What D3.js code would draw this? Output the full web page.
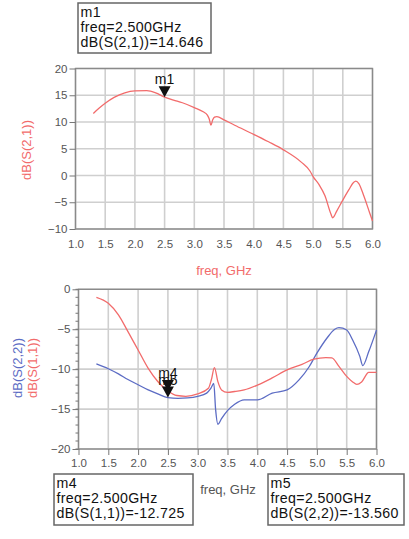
<!DOCTYPE html>
<html>
<head>
<meta charset="utf-8">
<script src="https://cdn.jsdelivr.net/npm/d3@7"></script>
<style>
  html, body { margin: 0; padding: 0; background: #fff; }
  svg { display: block; font-family: "Liberation Sans", Arial, sans-serif; }
</style>
</head>
<body>
<svg id="chart" width="409" height="539"></svg>
<script>
// ---- S21 (gain) trace ----
const freqS21 = [1.30, 1.40, 1.50, 1.65, 1.83, 2.00, 2.20, 2.35, 2.50, 2.65, 2.80, 3.00, 3.15, 3.22, 3.25, 3.28, 3.31, 3.34, 3.38, 3.50, 3.68, 4.00, 4.25, 4.50, 4.80, 4.95, 5.00, 5.10, 5.20, 5.30, 5.33, 5.40, 5.50, 5.60, 5.68, 5.72, 5.77, 5.85, 5.95, 6.00];
const s21 = [11.6, 12.6, 13.5, 14.6, 15.45, 15.8, 15.85, 15.45, 14.646, 14.1, 13.6, 12.7, 11.9, 11.3, 10.6, 9.4, 10.4, 10.9, 11.0, 10.4, 9.4, 7.7, 6.3, 4.8, 2.5, 0.8, -0.2, -1.7, -3.8, -7.2, -7.9, -6.6, -4.6, -2.7, -1.3, -1.05, -1.5, -3.7, -6.9, -8.5];

// ---- S11 / S22 (return loss) traces ----
const freqS11 = [1.30, 1.50, 1.67, 1.83, 2.00, 2.17, 2.33, 2.50, 2.65, 2.80, 3.00, 3.18, 3.23, 3.28, 3.34, 3.40, 3.50, 3.62, 3.78, 4.00, 4.25, 4.50, 4.75, 4.95, 5.15, 5.25, 5.37, 5.50, 5.60, 5.67, 5.75, 5.87, 6.00];
const s11 = [-1.0, -1.75, -3.2, -5.3, -7.6, -9.9, -11.55, -12.725, -13.3, -13.4, -13.1, -12.4, -11.3, -9.8, -11.6, -12.6, -12.9, -12.8, -12.6, -12.0, -11.1, -10.1, -9.4, -8.75, -8.55, -8.6, -9.65, -10.9, -11.6, -11.9, -11.6, -10.4, -10.4];

const freqS22 = [1.30, 1.50, 1.67, 1.83, 2.00, 2.17, 2.33, 2.50, 2.67, 2.83, 3.00, 3.15, 3.22, 3.27, 3.30, 3.34, 3.40, 3.50, 3.62, 3.78, 4.00, 4.25, 4.50, 4.70, 4.87, 5.00, 5.17, 5.30, 5.37, 5.50, 5.60, 5.72, 5.77, 5.87, 6.00];
const s22 = [-9.35, -9.95, -10.6, -11.3, -11.95, -12.6, -13.1, -13.56, -13.65, -13.6, -13.4, -13.0, -12.4, -11.8, -15.0, -16.9, -16.2, -15.2, -14.4, -13.85, -13.85, -13.0, -12.6, -11.35, -9.7, -8.0, -6.1, -5.0, -4.8, -5.1, -6.35, -8.4, -9.55, -7.8, -5.1];

// ---- axis ticks ----
const freqTicks = [1.0, 1.5, 2.0, 2.5, 3.0, 3.5, 4.0, 4.5, 5.0, 5.5, 6.0];
const gainTicks = [-10, -5, 0, 5, 10, 15, 20];
const reflTicks = [-20, -15, -10, -5, 0];
const reflMinorTicks = d3.range(-20, 1, 1);

// ---- markers ----
const markerFreq = 2.5;
const m1Value = 14.646;
const m4Value = -12.725;
const m5Value = -13.560;

const RED = "#f26b6b";
const BLUE = "#5c6cc4";
const GRID = "#cfcfcf";
const FRAME = "#8a8a8a";
const TICKTXT = "#555";

const svg = d3.select("#chart");

function frame(g, x, y, xt, yt, opts) {
  const [x0, x1] = x.range();
  const [y0, y1] = y.range();
  // grid
  g.append("g").selectAll("line").data(xt).join("line")
    .attr("x1", d => x(d)).attr("x2", d => x(d))
    .attr("y1", y1).attr("y2", y0)
    .attr("stroke", GRID).attr("stroke-width", 1.6);
  g.append("g").selectAll("line").data(yt).join("line")
    .attr("x1", x0).attr("x2", x1)
    .attr("y1", d => y(d)).attr("y2", d => y(d))
    .attr("stroke", GRID).attr("stroke-width", 1.6);
  // frame
  g.append("rect")
    .attr("x", x0).attr("y", y1)
    .attr("width", x1 - x0).attr("height", y0 - y1)
    .attr("fill", "none").attr("stroke", FRAME).attr("stroke-width", 1.4);

  // y axis
  const ya = d3.axisLeft(y).tickValues(yt).tickSize(6).tickPadding(2).tickFormat(d3.format("d"));
  const yg = g.append("g").attr("transform", `translate(${x0},0)`).call(ya);
  yg.select(".domain").remove();
  yg.selectAll("line").attr("stroke", "#777");
  yg.selectAll("text").attr("fill", TICKTXT).attr("font-size", 11.5).attr("font-family", "Liberation Sans, Arial, sans-serif");

  if (opts.minor) {
    g.append("g").selectAll("line").data(opts.minor).join("line")
      .attr("x1", x0 - 3).attr("x2", x0)
      .attr("y1", d => y(d)).attr("y2", d => y(d))
      .attr("stroke", "#777").attr("stroke-width", 1);
  }

  // x axis
  const xa = d3.axisBottom(x).tickValues(xt).tickSize(opts.xTickSize).tickPadding(opts.xPad).tickFormat(d3.format(".1f"));
  const xg = g.append("g").attr("transform", `translate(0,${y0})`).call(xa);
  xg.select(".domain").remove();
  xg.selectAll("line").attr("stroke", "#777");
  xg.selectAll("text").attr("fill", TICKTXT).attr("font-size", 11.5).attr("font-family", "Liberation Sans, Arial, sans-serif");
}

function markerBox(x, y, w, h, lines) {
  svg.append("rect").attr("x", x).attr("y", y).attr("width", w).attr("height", h)
    .attr("fill", "#fff").attr("stroke", "#666").attr("stroke-width", 1.5);
  svg.append("g").selectAll("text").data(lines).join("text")
    .attr("x", x + 2.5).attr("y", (d, i) => y + 13.5 + i * 15.2)
    .attr("font-size", 14.2).attr("fill", "#111").attr("letter-spacing", 0.35)
    .text(d => d);
}

function marker(g, px, py, name) {
  g.append("path")
    .attr("d", `M${px - 6},${py - 11}L${px + 6},${py - 11}L${px},${py}Z`)
    .attr("fill", "#111");
  g.append("text").attr("x", px).attr("y", py - 13)
    .attr("text-anchor", "middle").attr("font-size", 14).attr("fill", "#111")
    .text(name);
}

const line = (x, y) => d3.line().x(d => x(d[0])).y(d => y(d[1])).curve(d3.curveMonotoneX);

// ================= top plot: S21 =================
const xTop = d3.scaleLinear().domain([1, 6]).range([75.5, 372.5]);
const yTop = d3.scaleLinear().domain([-10, 20]).range([229, 68.5]);
const gTop = svg.append("g");
frame(gTop, xTop, yTop, freqTicks, gainTicks, { xTickSize: 0, xPad: 11 });

gTop.append("path")
  .datum(d3.zip(freqS21, s21))
  .attr("d", line(xTop, yTop))
  .attr("fill", "none").attr("stroke", RED).attr("stroke-width", 1.3);

marker(gTop, xTop(markerFreq), yTop(m1Value), "m1");

gTop.append("text").attr("x", 224).attr("y", 275).attr("text-anchor", "middle")
  .attr("font-size", 13).attr("fill", RED).text("freq, GHz");
gTop.append("text").attr("transform", "translate(31,150) rotate(-90)")
  .attr("text-anchor", "middle").attr("font-size", 13).attr("fill", RED).text("dB(S(2,1))");

markerBox(78, 3, 133, 50, ["m1", `freq=${markerFreq.toFixed(3)}GHz`, `dB(S(2,1))=${m1Value.toFixed(3)}`]);

// ================= bottom plot: S11 / S22 =================
const xBot = d3.scaleLinear().domain([1, 6]).range([78.5, 376.5]);
const yBot = d3.scaleLinear().domain([-20, 0]).range([449, 289.3]);
const gBot = svg.append("g");
frame(gBot, xBot, yBot, freqTicks, reflTicks, { xTickSize: 6, xPad: 4, minor: reflMinorTicks });

gBot.append("path")
  .datum(d3.zip(freqS22, s22))
  .attr("d", line(xBot, yBot))
  .attr("fill", "none").attr("stroke", BLUE).attr("stroke-width", 1.3);
gBot.append("path")
  .datum(d3.zip(freqS11, s11))
  .attr("d", line(xBot, yBot))
  .attr("fill", "none").attr("stroke", RED).attr("stroke-width", 1.3);

// the two markers share a frequency, so their labels stack on top of each other
marker(gBot, xBot(markerFreq), yBot(m4Value), "m4");
marker(gBot, xBot(markerFreq), yBot(m5Value), "m5");

gBot.append("text").attr("x", 228).attr("y", 494).attr("text-anchor", "middle")
  .attr("font-size", 13).attr("fill", TICKTXT).text("freq, GHz");
gBot.append("text").attr("transform", "translate(22,368) rotate(-90)")
  .attr("text-anchor", "middle").attr("font-size", 13).attr("fill", BLUE).text("dB(S(2,2))");
gBot.append("text").attr("transform", "translate(37,368) rotate(-90)")
  .attr("text-anchor", "middle").attr("font-size", 13).attr("fill", RED).text("dB(S(1,1))");

markerBox(54, 474, 139, 51, ["m4", `freq=${markerFreq.toFixed(3)}GHz`, `dB(S(1,1))=${m4Value.toFixed(3)}`]);
markerBox(268, 474, 136, 51, ["m5", `freq=${markerFreq.toFixed(3)}GHz`, `dB(S(2,2))=${m5Value.toFixed(3)}`]);
</script>
</body>
</html>
